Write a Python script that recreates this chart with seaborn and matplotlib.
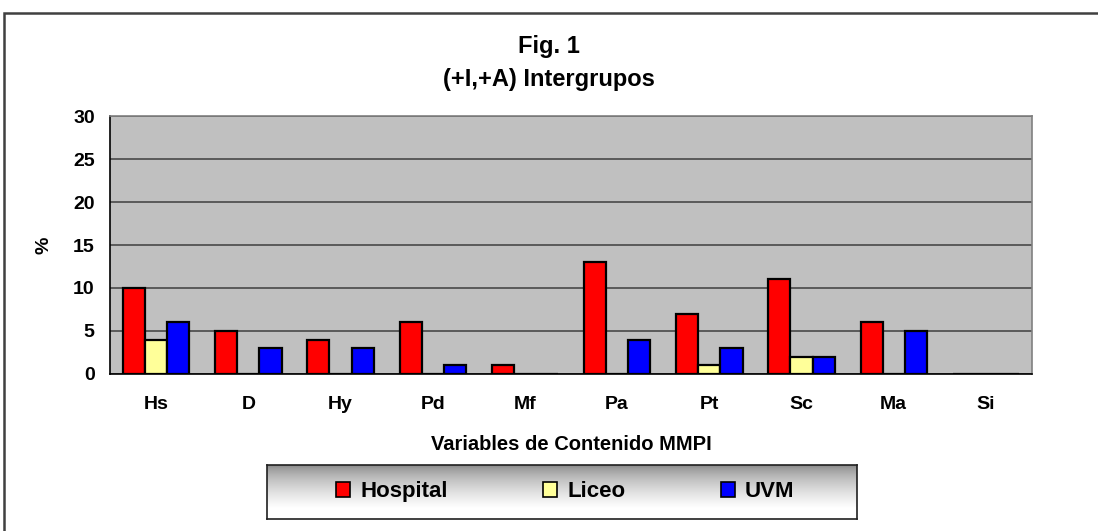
import matplotlib
matplotlib.use("Agg")
import matplotlib.pyplot as plt
import numpy as np
import pandas as pd
import seaborn as sns
from matplotlib.patches import Rectangle, Patch

# data
escalas = ["Hs", "D", "Hy", "Pd", "Mf", "Pa", "Pt", "Sc", "Ma", "Si"]
hospital = [10, 5, 4, 6, 1, 13, 7, 11, 6, 0]
liceo = [4, 0, 0, 0, 0, 0, 1, 2, 0, 0]
uvm = [6, 3, 3, 1, 0, 4, 3, 2, 5, 0]
grupos = ["Hospital", "Liceo", "UVM"]
colores = ["#FF0000", "#FFFF99", "#0000FF"]

df = pd.DataFrame({
    "escala": escalas * 3,
    "grupo": [g for g in grupos for _ in escalas],
    "pct": hospital + liceo + uvm,
})

sns.set_theme(style="white")
plt.rcParams["font.family"] = ["Liberation Sans", "DejaVu Sans"]
plt.rcParams["font.weight"] = "bold"
plt.rcParams["text.color"] = "black"
plt.rcParams["axes.labelcolor"] = "black"
plt.rcParams["xtick.color"] = "black"
plt.rcParams["ytick.color"] = "black"

fig = plt.figure(figsize=(10.98, 5.31), dpi=100)
ax = fig.add_axes([0.1002, 0.2957, 0.8397, 0.4858])

sns.barplot(data=df, x="escala", y="pct", hue="grupo", order=escalas,
            hue_order=grupos, palette=colores, width=0.72, saturation=1,
            edgecolor="black", linewidth=1.6, legend=False, ax=ax, zorder=3)

ax.set_facecolor("#C0C0C0")
ax.set_ylim(0, 30)
ax.set_xlim(-0.5, len(escalas) - 0.5)
ax.set_yticks(np.arange(0, 31, 5))
ax.yaxis.grid(True, color="#5a5a5a", linewidth=1.4, zorder=1)
ax.set_axisbelow(True)
ax.set_xticks(np.arange(len(escalas)))
ax.set_xticklabels(escalas, fontsize=14, fontweight="bold")
ax.set_xticks(np.arange(-0.5, len(escalas)), minor=True)
ax.tick_params(axis="x", which="major", length=0, pad=16)
ax.tick_params(axis="x", which="minor", length=6, width=1, color="black", direction="out")
ax.tick_params(axis="y", length=5, width=1, color="black", direction="out",
               labelsize=14, pad=6)
for lbl in ax.get_yticklabels():
    lbl.set_fontweight("bold")
for side in ["top", "right"]:
    ax.spines[side].set_color("#808080")
    ax.spines[side].set_linewidth(1.2)
for side in ["left", "bottom"]:
    ax.spines[side].set_color("black")
    ax.spines[side].set_linewidth(1.2)
ax.set_xlabel("Variables de Contenido MMPI", fontsize=14.5, fontweight="bold", labelpad=16)
ax.set_ylabel("%", fontsize=14, fontweight="bold", labelpad=15)

fig.text(0.5, 0.9115, "Fig. 1", ha="center", va="center", fontsize=17, fontweight="bold")
fig.text(0.5, 0.851, "(+I,+A) Intergrupos", ha="center", va="center",
         fontsize=17, fontweight="bold")

# outer chart border
fig.patches.append(Rectangle((4 / 1098, -0.05), 1.1, 0.9755 + 0.05,
                             transform=fig.transFigure, fill=False,
                             edgecolor="#404040", linewidth=1.8))

# legend box with gradient, dark at the top fading to white
lx, ly, lw, lh = 0.2432, 0.0226, 0.5373, 0.1017
lax = fig.add_axes([lx, ly, lw, lh])
t = np.linspace(0, 1, 100)
grad = (0.48 + 0.52 * np.clip(t / 0.8, 0, 1) ** 0.6).reshape(-1, 1)
lax.imshow(grad, aspect="auto", cmap="gray", vmin=0, vmax=1,
           extent=[0, 1, 0, 1], origin="upper", interpolation="bilinear")
lax.set_xlim(0, 1)
lax.set_ylim(0, 1)
lax.set_xticks([])
lax.set_yticks([])
for s in lax.spines.values():
    s.set_color("#202020")
    s.set_linewidth(1.2)

handles = [Patch(facecolor=c, edgecolor="black", linewidth=1.2) for c in colores]
fig.legend(handles, grupos, loc="center", bbox_to_anchor=(lx + lw / 2 + 0.003, ly + lh / 2),
           ncol=3, frameon=False, prop={"weight": "bold", "size": 16},
           handlelength=0.63, handleheight=0.63, handletextpad=0.45, columnspacing=4.3)

fig.savefig("out.png", dpi=100)
